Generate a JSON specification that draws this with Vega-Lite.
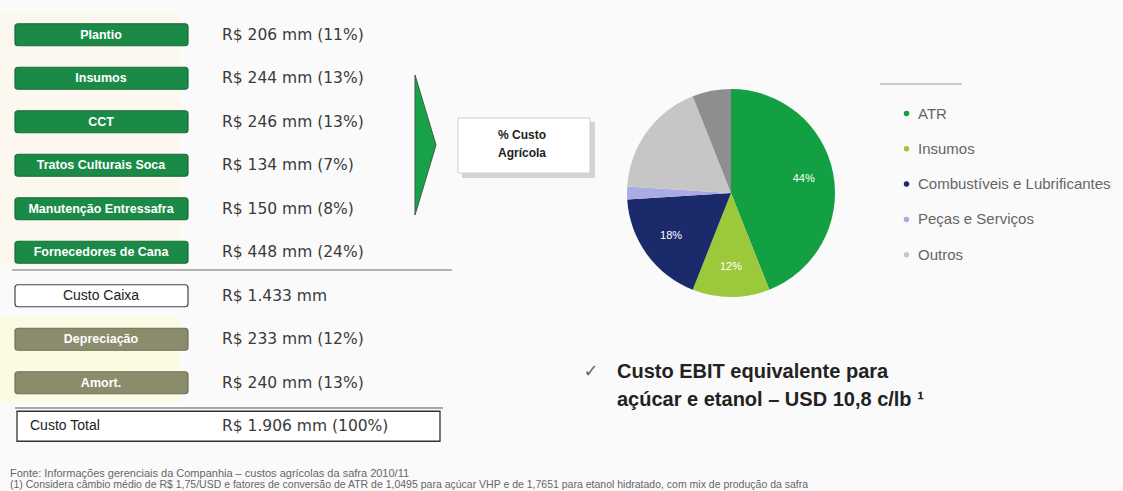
{
  "$schema": "https://vega.github.io/schema/vega-lite/v6.json",
  "width": 1123,
  "height": 491,
  "padding": 0,
  "autosize": {"type": "none"},
  "background": "#fafafa",
  "config": {"view": {"stroke": null}, "font": "Liberation Sans", "axis": {"disable": true}},
  "datasets": {
    "custos": [
      {"item": "Plantio", "rotulo": "R$ 206 mm (11%)", "valor_mm": 206, "pct": 11, "tipo": "agricola", "ordem": 1},
      {"item": "Insumos", "rotulo": "R$ 244 mm (13%)", "valor_mm": 244, "pct": 13, "tipo": "agricola", "ordem": 2},
      {"item": "CCT", "rotulo": "R$ 246 mm (13%)", "valor_mm": 246, "pct": 13, "tipo": "agricola", "ordem": 3},
      {"item": "Tratos Culturais Soca", "rotulo": "R$ 134 mm (7%)", "valor_mm": 134, "pct": 7, "tipo": "agricola", "ordem": 4},
      {"item": "Manutenção Entressafra", "rotulo": "R$ 150 mm (8%)", "valor_mm": 150, "pct": 8, "tipo": "agricola", "ordem": 5},
      {"item": "Fornecedores de Cana", "rotulo": "R$ 448 mm (24%)", "valor_mm": 448, "pct": 24, "tipo": "agricola", "ordem": 6},
      {"item": "Custo Caixa", "rotulo": "R$ 1.433 mm", "valor_mm": 1433, "pct": 75, "tipo": "caixa", "ordem": 7},
      {"item": "Depreciação", "rotulo": "R$ 233 mm (12%)", "valor_mm": 233, "pct": 12, "tipo": "ebit", "ordem": 8},
      {"item": "Amort.", "rotulo": "R$ 240 mm (13%)", "valor_mm": 240, "pct": 13, "tipo": "ebit", "ordem": 9},
      {"item": "Custo Total", "rotulo": "R$ 1.906 mm (100%)", "valor_mm": 1906, "pct": 100, "tipo": "total", "ordem": 10}
    ],
    "pizza": [
      {"categoria": "ATR", "pct": 44, "ordem": 1, "rotulo": "44%"},
      {"categoria": "Insumos", "pct": 12, "ordem": 2, "rotulo": "12%"},
      {"categoria": "Combustíveis e Lubrificantes", "pct": 18, "ordem": 3, "rotulo": "18%"},
      {"categoria": "Peças e Serviços", "pct": 2, "ordem": 4, "rotulo": ""},
      {"categoria": "Outros", "pct": 18, "ordem": 5, "rotulo": ""},
      {"categoria": "Outros (demais)", "pct": 6, "ordem": 6, "rotulo": ""}
    ]
  },
  "resolve": {"scale": {"x": "independent", "y": "independent", "color": "independent", "stroke": "independent"}},
  "layer": [
    {
      "data": {"values": [{}]},
      "layer": [
        {
          "mark": {"type": "rect", "fill": "#fcf8ef"},
          "encoding": {
            "x": {"datum": 0, "type": "quantitative", "scale": {"domain": [0, 1123], "nice": false, "zero": false}},
            "x2": {"datum": 180},
            "y": {"datum": 12, "type": "quantitative", "scale": {"domain": [0, 491], "nice": false, "zero": false, "reverse": true}},
            "y2": {"datum": 266}
          }
        },
        {
          "mark": {"type": "rect", "fill": "#fbfbe4"},
          "encoding": {
            "x": {"datum": 0, "type": "quantitative", "scale": {"domain": [0, 1123], "nice": false, "zero": false}},
            "x2": {"datum": 180},
            "y": {"datum": 316, "type": "quantitative", "scale": {"domain": [0, 491], "nice": false, "zero": false, "reverse": true}},
            "y2": {"datum": 402}
          }
        }
      ]
    },
    {
      "data": {"name": "custos"},
      "encoding": {
        "y": {"field": "item", "type": "nominal", "sort": {"field": "ordem"}, "axis": null,
              "scale": {"range": [13, 448], "paddingInner": 0.5, "paddingOuter": 0.25}}
      },
      "layer": [
        {
          "transform": [{"filter": "datum.tipo !== 'total'"}],
          "mark": {"type": "bar", "height": 22, "cornerRadius": 3, "strokeWidth": 1.2},
          "encoding": {
            "x": {"datum": 15, "type": "quantitative", "scale": {"domain": [0, 1123], "nice": false, "zero": false}},
            "x2": {"datum": 188},
            "color": {"field": "tipo", "type": "nominal", "legend": null,
                      "scale": {"domain": ["agricola", "caixa", "ebit"], "range": ["#1b8a47", "#ffffff", "#8a8c6c"]}},
            "stroke": {"field": "tipo", "type": "nominal", "legend": null,
                       "scale": {"domain": ["agricola", "caixa", "ebit"], "range": ["#156d39", "#444444", "#6e7057"]}}
          }
        },
        {
          "transform": [{"filter": "datum.tipo === 'total'"}],
          "mark": {"type": "bar", "height": 30, "fill": "#ffffff", "stroke": "#333333", "strokeWidth": 1.3},
          "encoding": {
            "x": {"datum": 17, "type": "quantitative", "scale": {"domain": [0, 1123], "nice": false, "zero": false}},
            "x2": {"datum": 440}
          }
        },
        {
          "transform": [{"filter": "datum.tipo === 'agricola' || datum.tipo === 'ebit'"}],
          "mark": {"type": "text", "align": "center", "baseline": "middle", "fontSize": 12.5, "fontWeight": "bold", "color": "#ffffff"},
          "encoding": {
            "x": {"datum": 101, "type": "quantitative", "scale": {"domain": [0, 1123], "nice": false, "zero": false}},
            "text": {"field": "item"}
          }
        },
        {
          "transform": [{"filter": "datum.tipo === 'caixa'"}],
          "mark": {"type": "text", "align": "center", "baseline": "middle", "fontSize": 14, "color": "#222222"},
          "encoding": {
            "x": {"datum": 101, "type": "quantitative", "scale": {"domain": [0, 1123], "nice": false, "zero": false}},
            "text": {"field": "item"}
          }
        },
        {
          "transform": [{"filter": "datum.tipo === 'total'"}],
          "mark": {"type": "text", "align": "left", "baseline": "middle", "fontSize": 14, "color": "#222222"},
          "encoding": {
            "x": {"datum": 30, "type": "quantitative", "scale": {"domain": [0, 1123], "nice": false, "zero": false}},
            "text": {"field": "item"}
          }
        },
        {
          "mark": {"type": "text", "align": "left", "baseline": "middle", "fontSize": 15.5, "font": "DejaVu Sans", "color": "#3a3a3a"},
          "encoding": {
            "x": {"datum": 222, "type": "quantitative", "scale": {"domain": [0, 1123], "nice": false, "zero": false}},
            "text": {"field": "rotulo"}
          }
        }
      ]
    },
    {
      "layer": [
        {
          "data": {"values": [{}]},
          "mark": {"type": "rule", "color": "#9a9a9a", "strokeWidth": 1.5},
          "encoding": {
            "x": {"datum": 12, "type": "quantitative", "scale": {"domain": [0, 1123], "nice": false, "zero": false}},
            "x2": {"datum": 452},
            "y": {"datum": 270, "type": "quantitative", "scale": {"domain": [0, 491], "nice": false, "zero": false, "reverse": true}}
          }
        },
        {
          "data": {"values": [{}]},
          "mark": {"type": "rule", "color": "#555555", "strokeWidth": 1},
          "encoding": {
            "x": {"datum": 15, "type": "quantitative", "scale": {"domain": [0, 1123], "nice": false, "zero": false}},
            "x2": {"datum": 443},
            "y": {"datum": 408, "type": "quantitative", "scale": {"domain": [0, 491], "nice": false, "zero": false, "reverse": true}}
          }
        },
        {
          "data": {"values": [{}]},
          "mark": {"type": "point", "shape": "M -0.15 -1 L 0.15 0 L -0.15 1 Z", "size": 19600, "filled": true,
                   "fill": "#17a24a", "stroke": "#3d5c45", "strokeWidth": 1, "opacity": 1},
          "encoding": {
            "x": {"datum": 425.5, "type": "quantitative", "scale": {"domain": [0, 1123], "nice": false, "zero": false}},
            "y": {"datum": 145, "type": "quantitative", "scale": {"domain": [0, 491], "nice": false, "zero": false, "reverse": true}}
          }
        },
        {
          "data": {"values": [{}]},
          "mark": {"type": "rect", "fill": "#d4d4d4"},
          "encoding": {
            "x": {"datum": 462, "type": "quantitative", "scale": {"domain": [0, 1123], "nice": false, "zero": false}},
            "x2": {"datum": 595},
            "y": {"datum": 122, "type": "quantitative", "scale": {"domain": [0, 491], "nice": false, "zero": false, "reverse": true}},
            "y2": {"datum": 178}
          }
        },
        {
          "data": {"values": [{}]},
          "mark": {"type": "rect", "fill": "#ffffff", "stroke": "#cccccc", "strokeWidth": 1},
          "encoding": {
            "x": {"datum": 458, "type": "quantitative", "scale": {"domain": [0, 1123], "nice": false, "zero": false}},
            "x2": {"datum": 590},
            "y": {"datum": 118, "type": "quantitative", "scale": {"domain": [0, 491], "nice": false, "zero": false, "reverse": true}},
            "y2": {"datum": 173}
          }
        },
        {
          "data": {"values": [{}]},
          "mark": {"type": "text", "text": "% Custo", "align": "center", "baseline": "middle", "fontSize": 12, "fontWeight": "bold", "color": "#222222"},
          "encoding": {
            "x": {"datum": 522, "type": "quantitative", "scale": {"domain": [0, 1123], "nice": false, "zero": false}},
            "y": {"datum": 135, "type": "quantitative", "scale": {"domain": [0, 491], "nice": false, "zero": false, "reverse": true}}
          }
        },
        {
          "data": {"values": [{}]},
          "mark": {"type": "text", "text": "Agrícola", "align": "center", "baseline": "middle", "fontSize": 12, "fontWeight": "bold", "color": "#222222"},
          "encoding": {
            "x": {"datum": 522, "type": "quantitative", "scale": {"domain": [0, 1123], "nice": false, "zero": false}},
            "y": {"datum": 153, "type": "quantitative", "scale": {"domain": [0, 491], "nice": false, "zero": false, "reverse": true}}
          }
        },
        {
          "data": {"values": [{}]},
          "mark": {"type": "rule", "color": "#cccccc", "strokeWidth": 2},
          "encoding": {
            "x": {"datum": 880, "type": "quantitative", "scale": {"domain": [0, 1123], "nice": false, "zero": false}},
            "x2": {"datum": 962},
            "y": {"datum": 84, "type": "quantitative", "scale": {"domain": [0, 491], "nice": false, "zero": false, "reverse": true}}
          }
        },
        {
          "data": {"name": "pizza"},
          "mark": {"type": "arc", "outerRadius": 104},
          "encoding": {
            "x": {"datum": 731, "type": "quantitative", "scale": {"domain": [0, 1123], "nice": false, "zero": false}},
            "y": {"datum": 193, "type": "quantitative", "scale": {"domain": [0, 491], "nice": false, "zero": false, "reverse": true}},
            "theta": {"field": "pct", "type": "quantitative", "stack": true},
            "order": {"field": "ordem", "type": "quantitative"},
            "color": {"field": "categoria", "type": "nominal",
                      "scale": {"domain": ["ATR", "Insumos", "Combustíveis e Lubrificantes", "Peças e Serviços", "Outros", "Outros (demais)"],
                                "range": ["#13a042", "#9cc83c", "#1b2a6b", "#aaaae4", "#c6c6c6", "#8e8e8e"]},
                      "legend": {"title": null, "orient": "none", "legendX": 899, "legendY": 106,
                                 "values": ["ATR", "Insumos", "Combustíveis e Lubrificantes", "Peças e Serviços", "Outros"],
                                 "symbolType": "circle", "symbolSize": 30, "symbolStrokeWidth": 0,
                                 "labelFontSize": 15, "labelColor": "#666666", "labelFont": "Liberation Sans",
                                 "rowPadding": 19.3, "labelLimit": 400, "labelOffset": 4, "padding": 0}}
          }
        },
        {
          "data": {"name": "pizza"},
          "mark": {"type": "text", "radius": 74, "fontSize": 11, "color": "#ffffff", "align": "center", "baseline": "middle"},
          "encoding": {
            "x": {"datum": 731, "type": "quantitative", "scale": {"domain": [0, 1123], "nice": false, "zero": false}},
            "y": {"datum": 193, "type": "quantitative", "scale": {"domain": [0, 491], "nice": false, "zero": false, "reverse": true}},
            "theta": {"field": "pct", "type": "quantitative", "stack": true},
            "order": {"field": "ordem", "type": "quantitative"},
            "text": {"field": "rotulo"}
          }
        },
        {
          "data": {"values": [{}]},
          "mark": {"type": "text", "text": "✓", "align": "center", "baseline": "middle", "fontSize": 18, "font": "DejaVu Sans", "color": "#666666"},
          "encoding": {
            "x": {"datum": 591, "type": "quantitative", "scale": {"domain": [0, 1123], "nice": false, "zero": false}},
            "y": {"datum": 372, "type": "quantitative", "scale": {"domain": [0, 491], "nice": false, "zero": false, "reverse": true}}
          }
        },
        {
          "data": {"values": [{}]},
          "mark": {"type": "text", "text": "Custo EBIT equivalente para", "align": "left", "baseline": "middle", "fontSize": 20, "fontWeight": "bold", "color": "#222222"},
          "encoding": {
            "x": {"datum": 617, "type": "quantitative", "scale": {"domain": [0, 1123], "nice": false, "zero": false}},
            "y": {"datum": 372, "type": "quantitative", "scale": {"domain": [0, 491], "nice": false, "zero": false, "reverse": true}}
          }
        },
        {
          "data": {"values": [{}]},
          "mark": {"type": "text", "text": "açúcar e etanol – USD 10,8 c/lb ¹", "align": "left", "baseline": "middle", "fontSize": 20, "fontWeight": "bold", "color": "#222222"},
          "encoding": {
            "x": {"datum": 617, "type": "quantitative", "scale": {"domain": [0, 1123], "nice": false, "zero": false}},
            "y": {"datum": 400, "type": "quantitative", "scale": {"domain": [0, 491], "nice": false, "zero": false, "reverse": true}}
          }
        },
        {
          "data": {"values": [{}]},
          "mark": {"type": "text", "text": "Fonte: Informações gerenciais da Companhia – custos agrícolas da safra 2010/11", "align": "left", "baseline": "middle", "fontSize": 11, "color": "#666666"},
          "encoding": {
            "x": {"datum": 10, "type": "quantitative", "scale": {"domain": [0, 1123], "nice": false, "zero": false}},
            "y": {"datum": 474, "type": "quantitative", "scale": {"domain": [0, 491], "nice": false, "zero": false, "reverse": true}}
          }
        },
        {
          "data": {"values": [{}]},
          "mark": {"type": "text", "text": "(1) Considera câmbio médio de R$ 1,75/USD e fatores de conversão de ATR de 1,0495 para açúcar VHP e de 1,7651 para etanol hidratado, com mix de produção da safra", "align": "left", "baseline": "middle", "fontSize": 10.5, "color": "#666666"},
          "encoding": {
            "x": {"datum": 10, "type": "quantitative", "scale": {"domain": [0, 1123], "nice": false, "zero": false}},
            "y": {"datum": 485, "type": "quantitative", "scale": {"domain": [0, 491], "nice": false, "zero": false, "reverse": true}}
          }
        }
      ]
    }
  ]
}
